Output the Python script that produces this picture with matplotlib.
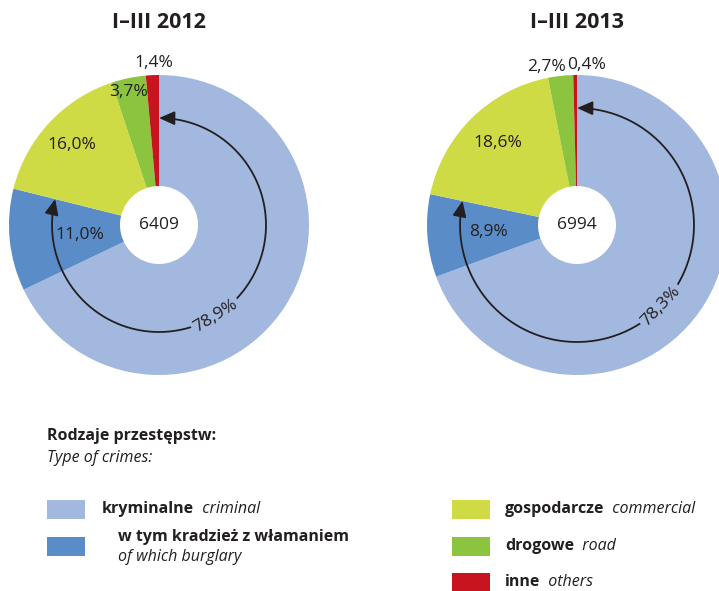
import numpy as np
import matplotlib
matplotlib.use("Agg")
import matplotlib.pyplot as plt
from matplotlib.patches import Circle, Rectangle, FancyArrowPatch
from matplotlib.path import Path

plt.rcParams['font.family'] = ['Open Sans', 'DejaVu Sans']

# Data
periods = ['I–III 2012', 'I–III 2013']
totals = [6409, 6994]
criminal = [78.9, 78.3]
burglary = [11.0, 8.9]      # part of criminal
commercial = [16.0, 18.6]
road = [3.7, 2.7]
others = [1.4, 0.4]

colors = ['#A3B8DE', '#5A8DC8', '#CFDB44', '#8CC43F', '#C8141E']
TXT = '#231F20'
W, H = 719, 591

fig = plt.figure(figsize=(W / 100, H / 100), dpi=100)
ax = fig.add_axes([0, 0, 1, 1])


def fmt(v):
    return f'{v:.1f}'.replace('.', ',') + '%'


# pie layout (pixel coords, y measured from top)
centers = [(159, 225), (577, 225)]
arc_r = [107, 117]
arc_lab_ang = [-58, -44]
lab_pos = [
    {'burg': (80, 235), 'com': (72, 145), 'road': (129, 92), 'oth': (154, 63)},
    {'burg': (488, 232), 'com': (498, 143), 'road': (547, 67), 'oth': (587, 65)},
]

for i in range(2):
    cx, cy = centers[i]
    cy = H - cy
    vals = [criminal[i] - burglary[i], burglary[i], commercial[i], road[i], others[i]]
    ax.pie(vals, colors=colors, startangle=90, counterclock=False,
           radius=150, center=(cx, cy), wedgeprops=dict(linewidth=0))
    ax.add_patch(Circle((cx, cy), 39, facecolor='white', edgecolor='none', zorder=3))
    ax.text(cx, cy, str(totals[i]), ha='center', va='center', fontsize=12.5,
            color=TXT, zorder=4)

    # arc arrow spanning the criminal share
    end = 90 - 360 * criminal[i] / 100
    th = np.radians(np.linspace(90, end, 200))
    r = arc_r[i]
    verts = np.column_stack([cx + r * np.cos(th), cy + r * np.sin(th)])
    ax.add_patch(FancyArrowPatch(path=Path(verts),
                                 arrowstyle='<|-|>,head_length=9.5,head_width=4.2',
                                 color=TXT, lw=1.3, shrinkA=0, shrinkB=0, zorder=4))
    a = np.radians(arc_lab_ang[i])
    ax.text(cx + r * np.cos(a), cy + r * np.sin(a), fmt(criminal[i]),
            rotation=arc_lab_ang[i] + 90, rotation_mode='anchor',
            ha='center', va='center', fontsize=12.5, color=TXT, zorder=5,
            bbox=dict(boxstyle='square,pad=0.15', fc=colors[0], ec='none'))

    p = lab_pos[i]
    for key, v in [('burg', burglary[i]), ('com', commercial[i]),
                   ('road', road[i]), ('oth', others[i])]:
        x, y = p[key]
        ax.text(x, H - y, fmt(v), ha='center', va='center', fontsize=12.5,
                color=TXT, zorder=5)

    ax.text(centers[i][0], H - 22, periods[i], ha='center', va='center',
            fontsize=15.5, fontweight='bold', color=TXT)

# legend
ax.text(47, H - 436, 'Rodzaje przestępstw:', ha='left', va='center',
        fontsize=11.5, fontweight='bold', color=TXT)
ax.text(47, H - 458, 'Type of crimes:', ha='left', va='center',
        fontsize=11.5, style='italic', color=TXT)

legend_items = [
    (47, 509, colors[0], 102, 'kryminalne', 'criminal'),
    (452, 509, colors[2], 505, 'gospodarcze', 'commercial'),
    (452, 546, colors[3], 505, 'drogowe', 'road'),
    (452, 582, colors[4], 505, 'inne', 'others'),
]
for px, py, c, tx, pl, en in legend_items:
    ax.add_patch(Rectangle((px, H - py - 9.5), 38, 19, facecolor=c, edgecolor='none'))
    t = ax.text(tx, H - py, pl, ha='left', va='center', fontsize=11.5,
                fontweight='bold', color=TXT)
    ax.annotate('  ' + en, xy=(1, 0.5), xycoords=t, ha='left', va='center',
                fontsize=11.5, style='italic', color=TXT)

ax.add_patch(Rectangle((47, H - 546 - 9.5), 38, 19, facecolor=colors[1], edgecolor='none'))
ax.text(118, H - 537, 'w tym kradzież z włamaniem', ha='left', va='center',
        fontsize=11.5, fontweight='bold', color=TXT)
ax.text(118, H - 557, 'of which burglary', ha='left', va='center',
        fontsize=11.5, style='italic', color=TXT)

ax.set_xlim(0, W)
ax.set_ylim(0, H)
ax.set_aspect('auto')
ax.axis('off')

fig.savefig('out.png', dpi=100)
